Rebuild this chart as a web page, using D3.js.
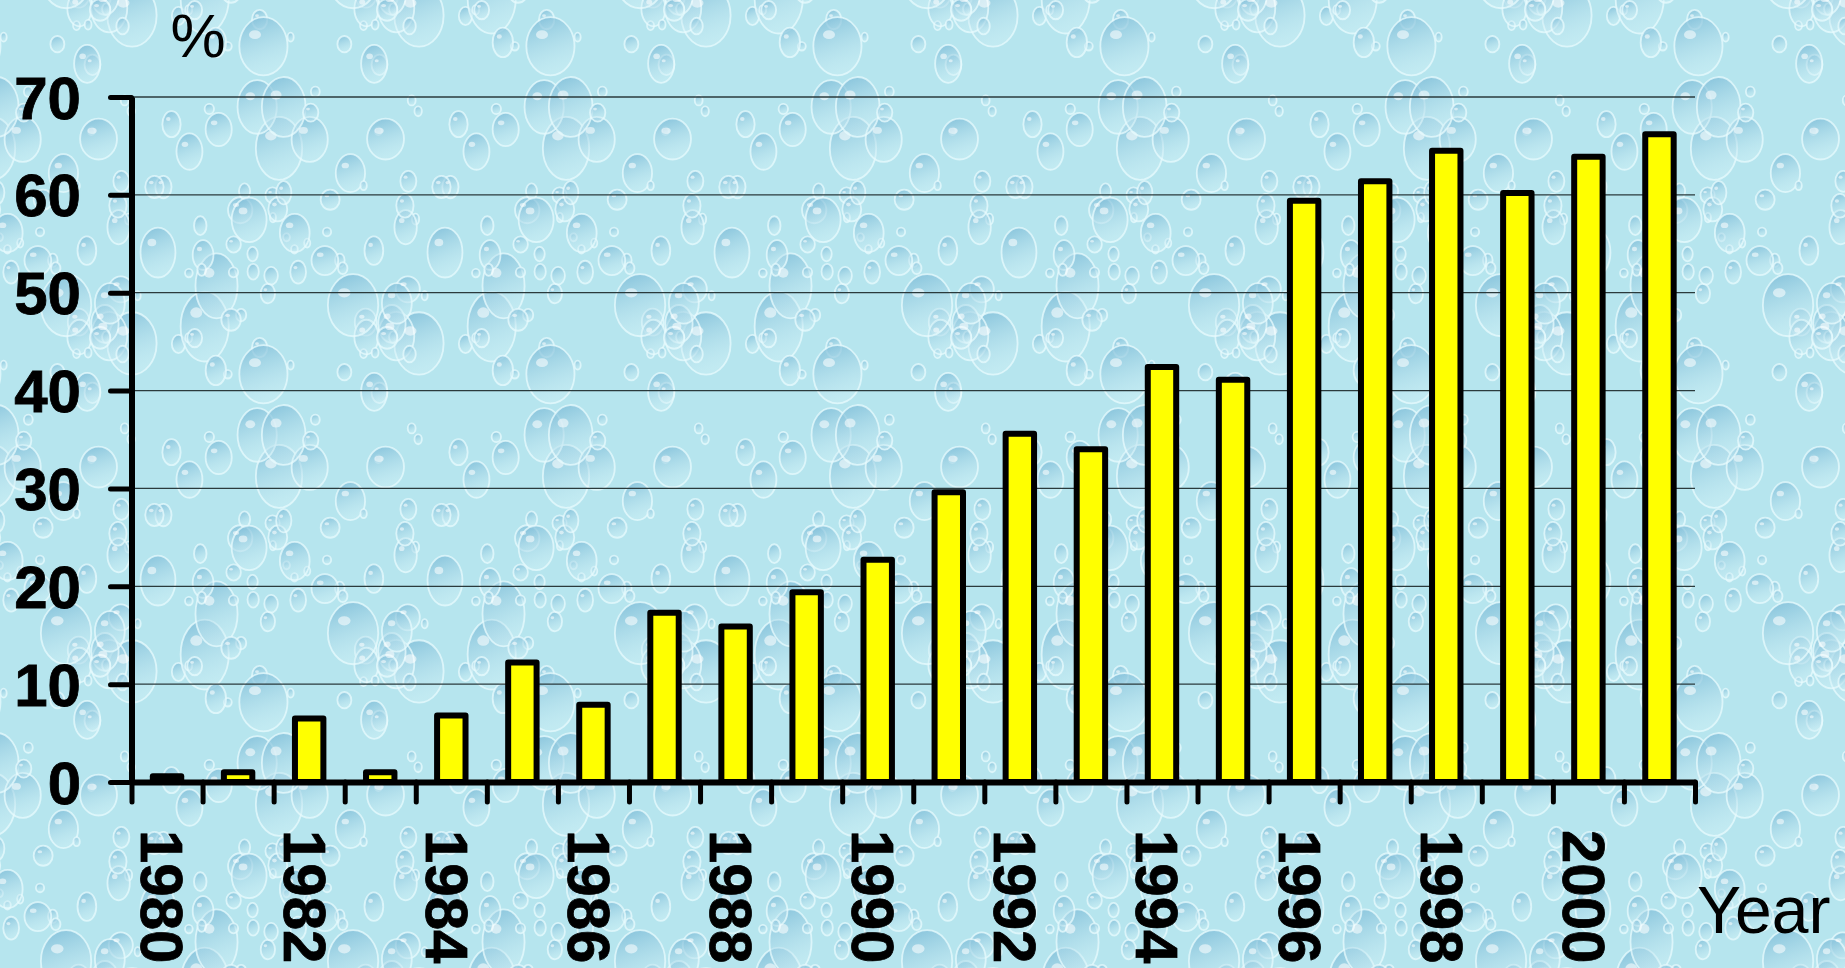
<!DOCTYPE html>
<html lang="en">
<head>
    <meta charset="UTF-8">
    <title>Percentage by Year</title>
    <script src="https://d3js.org/d3.v7.min.js"></script>
    <style>
        body {
            margin: 0;
            overflow: hidden;
            font-family: Arial, "Liberation Sans", sans-serif;
        }
        .ylab, .xlab {
            font-weight: bold;
            font-size: 60px;
            fill: #000;
            stroke: #000;
            stroke-width: 0.8px;
        }
        .title {
            font-size: 62px;
            fill: #000;
        }
    </style>
</head>
<body>
    <div id="chart"></div>

    <script>
        // data
        const years = d3.range(1980, 2002).map(String);
        const values = [0.6, 1.0, 6.5, 1.0, 6.8, 12.2, 7.9, 17.3, 15.9, 19.4, 22.7,
                        29.6, 35.6, 34.0, 42.4, 41.1, 59.4, 61.4, 64.5, 60.2, 63.9, 66.2];
        const yTicks = [0, 10, 20, 30, 40, 50, 60, 70];
        const labelYears = years.filter((d, i) => i % 2 === 0);

        const width = 1845;
        const height = 968;
        const plotLeft = 131.5, plotRight = 1695, plotTop = 97, plotBottom = 782;

        const svg = d3.select("#chart")
            .append("svg")
            .attr("width", width)
            .attr("height", height);

        // water drop background (a tiled pattern)
        const defs = svg.append("defs");
        const grad = defs.append("linearGradient")
            .attr("id", "drop")
            .attr("x1", 0).attr("y1", 0).attr("x2", 0.3).attr("y2", 1);
        grad.append("stop").attr("offset", "0%").attr("stop-color", "#74b6d4").attr("stop-opacity", 0.8);
        grad.append("stop").attr("offset", "100%").attr("stop-color", "#d6f3f8").attr("stop-opacity", 0.35);

        const tileW = 287, tileH = 328;
        const pat = defs.append("pattern")
            .attr("id", "water")
            .attr("patternUnits", "userSpaceOnUse")
            .attr("x", -4).attr("y", 29)
            .attr("width", tileW).attr("height", tileH);
        pat.append("rect").attr("width", tileW).attr("height", tileH).attr("fill", "#b6e5ee");

        const rnd = d3.randomLcg(0.37);
        const drops = d3.range(80).map(() => {
            const r = 3 + rnd() * rnd() * 28;
            return {cx: rnd() * tileW, cy: rnd() * tileH, rx: r, ry: r * (1.05 + rnd() * 0.5)};
        });
        [-tileW, 0, tileW].forEach(ox => [-tileH, 0, tileH].forEach(oy => {
            const g = pat.append("g").attr("transform", `translate(${ox},${oy})`);
            g.selectAll("ellipse.d")
                .data(drops)
                .enter()
                .append("ellipse")
                .attr("class", "d")
                .attr("cx", d => d.cx).attr("cy", d => d.cy)
                .attr("rx", d => d.rx).attr("ry", d => d.ry)
                .attr("fill", "url(#drop)")
                .attr("stroke", "#e8fbfd")
                .attr("stroke-opacity", 0.75)
                .attr("stroke-width", 1.8);
            g.selectAll("ellipse.h")
                .data(drops.filter(d => d.rx > 7))
                .enter()
                .append("ellipse")
                .attr("class", "h")
                .attr("cx", d => d.cx - d.rx * 0.35).attr("cy", d => d.cy - d.ry * 0.4)
                .attr("rx", d => d.rx * 0.25).attr("ry", d => d.ry * 0.15)
                .attr("fill", "#ffffff")
                .attr("opacity", 0.55);
        }));

        svg.append("rect")
            .attr("width", width)
            .attr("height", height)
            .attr("fill", "url(#water)");

        // scales
        const x = d3.scaleBand()
            .domain(years)
            .range([plotLeft, plotRight])
            .paddingInner(0.6)
            .paddingOuter(0.3);

        const xEdge = d3.scaleLinear()
            .domain([0, years.length])
            .range([plotLeft, plotRight]);

        const y = d3.scaleLinear()
            .domain([0, 70])
            .range([plotBottom, plotTop]);

        // grid lines
        svg.append("g")
            .selectAll("line")
            .data(yTicks.filter(d => d > 0))
            .enter()
            .append("line")
            .attr("x1", plotLeft).attr("x2", plotRight)
            .attr("y1", d => y(d)).attr("y2", d => y(d))
            .attr("stroke", "#2a3a3c")
            .attr("stroke-width", 1.3);

        // bars
        svg.append("g")
            .selectAll("rect")
            .data(values)
            .enter()
            .append("rect")
            .attr("x", (d, i) => x(years[i]))
            .attr("y", d => y(d))
            .attr("width", x.bandwidth())
            .attr("height", d => y(0) - y(d))
            .attr("fill", "#ffff00")
            .attr("stroke", "#000")
            .attr("stroke-width", 6)
            .attr("stroke-linejoin", "round");

        // y axis
        const yAxis = svg.append("g")
            .attr("transform", `translate(${plotLeft},0)`)
            .call(d3.axisLeft(y).tickValues(yTicks).tickSize(21).tickSizeOuter(0).tickFormat(""));
        yAxis.select(".domain").attr("stroke-width", 6);
        yAxis.selectAll(".tick line").attr("stroke-width", 5).attr("stroke-linecap", "round");

        svg.append("g")
            .selectAll("text")
            .data(yTicks)
            .enter()
            .append("text")
            .attr("class", "ylab")
            .attr("x", 81)
            .attr("y", d => y(d))
            .attr("dy", "0.36em")
            .attr("text-anchor", "end")
            .text(d => d);

        // x axis (ticks between the categories)
        const xAxis = svg.append("g")
            .attr("transform", `translate(0,${plotBottom})`)
            .call(d3.axisBottom(xEdge).tickValues(d3.range(years.length + 1)).tickSize(20).tickSizeOuter(0).tickFormat(""));
        xAxis.select(".domain").attr("stroke-width", 6);
        xAxis.selectAll(".tick line").attr("stroke-width", 5).attr("stroke-linecap", "round");

        svg.append("g")
            .selectAll("text")
            .data(labelYears)
            .enter()
            .append("text")
            .attr("class", "xlab")
            .attr("transform", d => `translate(${x(d) + x.bandwidth() / 2 - 4},830) rotate(90)`)
            .attr("dy", "0.36em")
            .text(d => d);

        // axis titles
        svg.append("text")
            .attr("class", "title")
            .attr("x", 198)
            .attr("y", 57)
            .attr("text-anchor", "middle")
            .text("%");

        svg.append("text")
            .attr("class", "title")
            .attr("x", 1697)
            .attr("y", 933)
            .style("font-size", "66px")
            .text("Year");
    </script>
</body>
</html>
